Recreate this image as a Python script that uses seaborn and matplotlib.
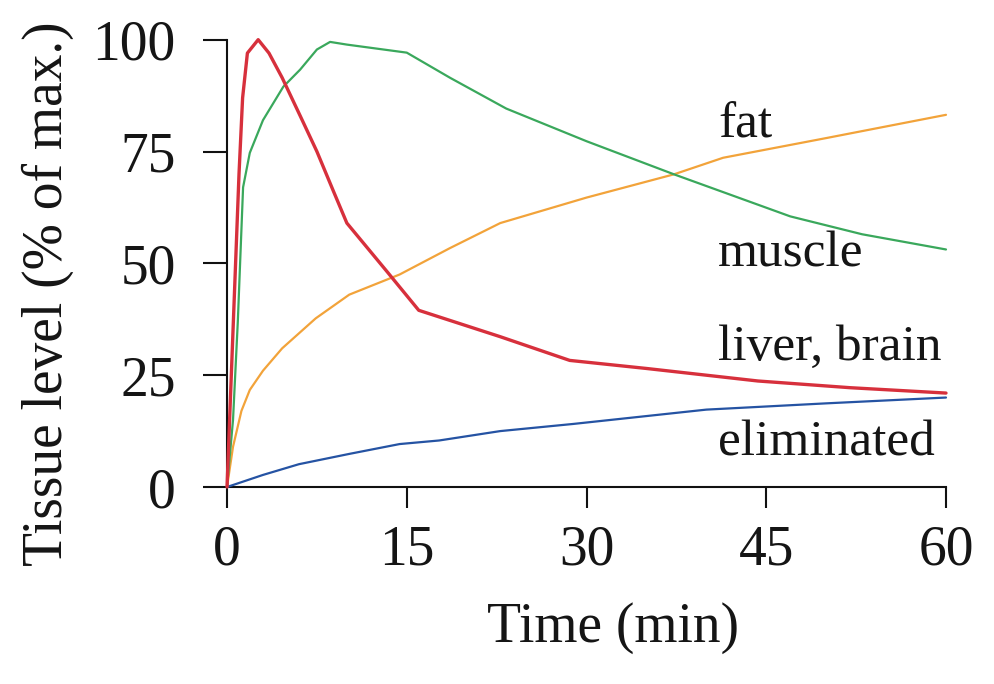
import matplotlib
matplotlib.use("Agg")
import matplotlib.pyplot as plt
import seaborn as sns
import pandas as pd

# ---- data ----
liver_t = [0, 0.5, 1.0, 1.3, 1.7, 2.6, 3.5, 4.6, 6.1, 7.5, 8.9, 10.0, 13.4, 16.0, 22.8, 28.6, 35.0, 44.3, 52.0, 60.0]
liver_v = [0, 35, 70, 87, 97, 100, 97, 91.5, 83, 75, 66, 59, 48, 39.5, 33.6, 28.3, 26.5, 23.7, 22.2, 21.0]

muscle_t = [0, 0.5, 0.9, 1.34, 1.9, 3.0, 4.7, 6.1, 7.5, 8.6, 10.0, 15.0, 18.6, 23.3, 30.0, 37.3, 47.0, 53.0, 60.0]
muscle_v = [0, 15, 37, 67, 74.7, 82, 89.5, 93.3, 97.8, 99.5, 98.9, 97.1, 91.5, 84.6, 77.3, 69.9, 60.5, 56.5, 53.1]

fat_t = [0, 0.5, 1.2, 1.9, 3.0, 4.6, 7.4, 10.2, 14.4, 18.6, 22.8, 30.0, 37.3, 41.4, 50.0, 60.0]
fat_v = [0, 9, 17, 21.7, 26, 31, 37.7, 43, 47.5, 53.4, 59, 64.7, 69.9, 73.6, 78.0, 83.2]

elim_t = [0, 3, 6, 10.2, 14.4, 17.7, 22.8, 28.9, 40, 50, 60]
elim_v = [0, 2.7, 5.1, 7.4, 9.6, 10.4, 12.5, 14.1, 17.3, 18.7, 20.0]

labels = ["fat", "muscle", "liver, brain", "eliminated"]
label_y = [78.2, 49.4, 28.5, 7.1]
label_x = 41.0

x_ticks = [0, 15, 30, 45, 60]
y_ticks = [0, 25, 50, 75, 100]

colors = {"liver": "#d7303c", "muscle": "#3aa85c", "fat": "#f2a33a", "elim": "#2553a3"}

sns.set_theme(style="ticks")
plt.rcParams["font.family"] = ["Liberation Serif", "DejaVu Serif"]
text_color = "#151515"

fig = plt.figure(figsize=(9.94, 6.84), dpi=100)
ax = fig.add_axes([0.2284, 0.288, 0.7233, 0.654])

series = [
    (fat_t, fat_v, colors["fat"], 1.6),
    (elim_t, elim_v, colors["elim"], 1.6),
    (muscle_t, muscle_v, colors["muscle"], 1.6),
    (liver_t, liver_v, colors["liver"], 2.4),
]
for t, v, c, lw in series:
    df = pd.DataFrame({"t": t, "v": v})
    sns.lineplot(data=df, x="t", y="v", ax=ax, color=c, linewidth=lw,
                 clip_on=False, zorder=3)

ax.set_xlim(0, 60)
ax.set_ylim(0, 100)
ax.set_xticks(x_ticks)
ax.set_yticks(y_ticks)
ax.set_xticklabels([str(v) for v in x_ticks])
ax.set_yticklabels([str(v) for v in y_ticks])

for s in ["top", "right"]:
    ax.spines[s].set_visible(False)
for s in ["left", "bottom"]:
    ax.spines[s].set_linewidth(1.5)
    ax.spines[s].set_color("#111111")

ax.tick_params(axis="x", length=15, width=1.5, pad=12, labelsize=40,
               colors="#111111", labelcolor=text_color)
ax.tick_params(axis="y", length=17, width=1.5, pad=20, labelsize=40,
               colors="#111111", labelcolor=text_color)

ax.set_xlabel("Time (min)", fontsize=40, color=text_color)
ax.set_ylabel("Tissue level (% of max.)", fontsize=40, color=text_color)
ax.xaxis.set_label_coords(0.537, -0.258)
ax.yaxis.set_label_coords(-0.213, 0.433)

for lab, yv in zip(labels, label_y):
    ax.text(label_x, yv, lab, fontsize=37, color=text_color, ha="left", va="baseline")

fig.savefig("out.png", dpi=100)
